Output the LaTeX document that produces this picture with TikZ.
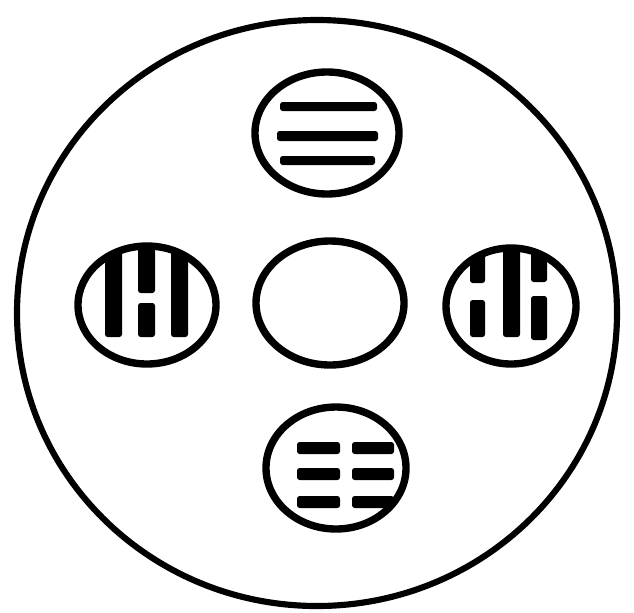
\documentclass[tikz,border=0pt]{standalone}
\usepackage{tikz}

\begin{document}
\begin{tikzpicture}[x=0.02cm,y=-0.02cm,
  ring/.style={line width=4.2pt},
  bar/.style={fill=black,rounded corners=1.5pt}]
  \useasboundingbox (0,0) rectangle (634,612);
  % outer disc
  \draw[line width=3.5pt] (317,313) ellipse (300 and 293);
  % centre
  \draw[ring] (330,303) ellipse (74 and 62);
  % top: three whole lines
  \fill[bar] (280,102) rectangle (377,111);
  \fill[bar] (277,131) rectangle (378,141);
  \fill[bar] (280,156) rectangle (375,165);
  \draw[ring] (327,133) ellipse (72 and 61);
  % bottom: three broken lines
  \foreach \y in {442,468,496} {
    \fill[bar] (297,\y) rectangle (340,\y+12);
    \fill[bar] (352,\y) rectangle (394,\y+12);
  }
  \draw[ring] (336,468) ellipse (70 and 61);
  % left: whole, broken, whole
  \begin{scope}
    \clip (147,305) ellipse (67 and 57);
    \fill[bar] (105,240) rectangle (122,337);
    \fill[bar] (138,240) rectangle (155,293);
    \fill[bar] (138,303) rectangle (155,337);
    \fill[bar] (171,240) rectangle (188,337);
  \end{scope}
  \draw[ring] (147,305) ellipse (69 and 59);
  % right: broken, whole, broken
  \begin{scope}
    \clip (511,306) ellipse (63 and 56);
    \fill[bar] (470,240) rectangle (485,283);
    \fill[bar] (470,300) rectangle (485,337);
    \fill[bar] (503,240) rectangle (520,337);
    \fill[bar] (531,240) rectangle (547,282);
    \fill[bar] (531,296) rectangle (547,340);
  \end{scope}
  \draw[ring] (511,306) ellipse (65 and 58);
\end{tikzpicture}
\end{document}
